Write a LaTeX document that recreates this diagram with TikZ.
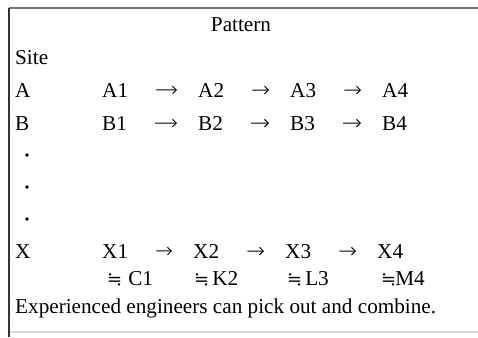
\documentclass[tikz,border=0pt]{standalone}
\usepackage{fontspec}
\setmainfont{Liberation Serif}
\newfontfamily\symfont{DejaVu Serif}
\usetikzlibrary{arrows.meta}

\newcommand{\nearlyeq}{{\symfont\fontsize{18}{18}\selectfont ≒}}

\begin{document}
\begin{tikzpicture}[
  x=1pt,
  y=-1pt,
  >={Straight Barb[length=3.8pt,width=7.5pt]},
  every node/.style={inner sep=0pt,anchor=base west,font=\fontsize{21.2}{24}\selectfont},
  flow/.style={->,line width=1pt,shorten <=28pt,shorten >=21pt},
  dot/.style={circle,fill,inner sep=1.4pt,anchor=center},
  frame/.style={line width=1.4pt}
]
\useasboundingbox (0,0) rectangle (478,337);

% Frame
\draw[frame,black!55] (9,8) -- (478,8);
\draw[frame,black!15] (9,332) -- (478,332);
\draw[frame,black!80] (9,8) -- (9,337);

% Header
\node[anchor=base] (pattern) at (241,32) {Pattern};
\node (site) at (15,64) {Site};

% Site A
\node (sa) at (15,97) {A};
\node (a1) at (102,97) {A1};
\node (a2) at (198,97) {A2};
\node (a3) at (290,97) {A3};
\node (a4) at (382,97) {A4};
\draw[flow] (a1) -- (a2);
\draw[flow] (a2) -- (a3);
\draw[flow] (a3) -- (a4);

% Site B
\node (sb) at (15,130) {B};
\node (b1) at (102,130) {B1};
\node (b2) at (198,130) {B2};
\node (b3) at (290,130) {B3};
\node (b4) at (382,130) {B4};
\draw[flow] (b1) -- (b2);
\draw[flow] (b2) -- (b3);
\draw[flow] (b3) -- (b4);

% Omitted sites
\node[dot] (d1) at (27,155) {};
\node[dot] (d2) at (27,187) {};
\node[dot] (d3) at (27,219) {};

% Site X
\node (sx) at (15,258) {X};
\node (x1) at (102,258) {X1};
\node (x2) at (193,258) {X2};
\node (x3) at (285,258) {X3};
\node (x4) at (377,258) {X4};
\draw[flow] (x1) -- (x2);
\draw[flow] (x2) -- (x3);
\draw[flow] (x3) -- (x4);

% Nearly equal patterns
\node (c1) at (107,285) {\nearlyeq\hspace{6pt}C1};
\node (k2) at (194,285) {\nearlyeq\hspace{3pt}K2};
\node (l3) at (287,285) {\nearlyeq\hspace{3pt}L3};
\node (m4) at (381,285) {\nearlyeq\hspace{-1pt}M4};

% Note
\node (note) at (15,313) {Experienced engineers can pick out and combine.};
\end{tikzpicture}
\end{document}
